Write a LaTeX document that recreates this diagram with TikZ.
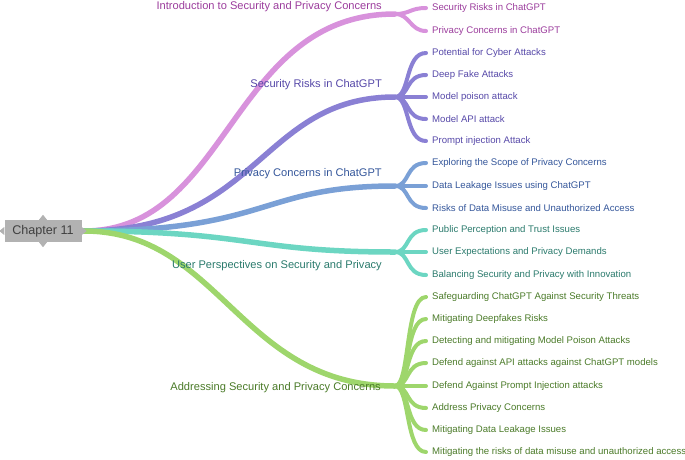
\documentclass[tikz,border=0pt]{standalone}
\usepackage{fontspec}
\setmainfont{Liberation Sans}
\begin{document}
\begin{tikzpicture}[x=1pt,y=-1pt,
 child/.style={anchor=west,font=\fontsize{9.6}{11}\selectfont,inner sep=0pt},
 mainlbl/.style={font=\fontsize{11.1}{13}\selectfont,inner sep=0pt},
 trunk/.style={line width=5.5pt,line cap=round},
 twig/.style={line width=4pt,line cap=round}]
\useasboundingbox (0,0) rectangle (685,459);
\definecolor{cA}{HTML}{D892DC}\definecolor{tA}{HTML}{9B3C9C}
\definecolor{cB}{HTML}{8A80D4}\definecolor{tB}{HTML}{5648A8}
\definecolor{cC}{HTML}{7AA0D6}\definecolor{tC}{HTML}{34569A}
\definecolor{cD}{HTML}{6CD6C2}\definecolor{tD}{HTML}{2A7A6C}
\definecolor{cE}{HTML}{9ED66C}\definecolor{tE}{HTML}{4A7A28}
\coordinate (o) at (84,231);
\coordinate (fA) at (395,14);
\coordinate (fB) at (395,97);
\coordinate (fC) at (395,186);
\coordinate (fD) at (395,252);
\coordinate (fE) at (395,386);
% trunks
\draw[trunk,cA] (o) .. controls (230,231) and (230,14) .. (fA);
\draw[trunk,cB] (o) .. controls (260,231) and (260,97) .. (fB);
\draw[trunk,cC] (o) .. controls (270,231) and (260,186) .. (fC);
\draw[trunk,cD] (o) .. controls (250,231) and (250,252) .. (fD);
\draw[trunk,cE] (o) .. controls (220,231) and (240,386) .. (fE);
% root
\node[fill=black!30,text=black!75,font=\fontsize{12.6}{14}\selectfont,minimum width=77pt,minimum height=22pt,inner sep=0pt] (root) at (43,231) {Chapter 11};
\fill[black!30] (root.north) ++(-4,0) -- ++(4,-5) -- ++(4,5) -- cycle;
\fill[black!30] (root.south) ++(-4,0) -- ++(4,5) -- ++(4,-5) -- cycle;
\fill[black!30] (root.east) ++(0,-4) -- ++(5,4) -- ++(-5,4) -- cycle;
\fill[black!30] (root.west) ++(0,-4) -- ++(-5,4) -- ++(5,4) -- cycle;
% main labels
\node[mainlbl,text=tA,anchor=east] (mA) at (382,7) {Introduction to Security and Privacy Concerns};
\node[mainlbl,text=tB,anchor=east] (mB) at (382,85) {Security Risks in ChatGPT};
\node[mainlbl,text=tC,anchor=east] (mC) at (382,174) {Privacy Concerns in ChatGPT};
\node[mainlbl,text=tD,anchor=east] (mD) at (382,266) {User Perspectives on Security and Privacy};
\node[mainlbl,text=tE,anchor=east] (mE) at (381,388) {Addressing Security and Privacy Concerns};
% children
\foreach \n/\y/\t in {a1/8/Security Risks in ChatGPT,a2/31/Privacy Concerns in ChatGPT}
 {\node[child,text=tA] (\n) at (432,\y) {\t}; \draw[twig,cA] (fA) .. controls (410,14) and (410,\y) .. ([xshift=-6pt]\n.west);}
\foreach \n/\y/\t in {b1/53/Potential for Cyber Attacks,b2/75/Deep Fake Attacks,b3/97/Model poison attack,b4/119/Model API attack,b5/141/Prompt injection Attack}
 {\node[child,text=tB] (\n) at (432,\y) {\t}; \draw[twig,cB] (fB) .. controls (410,97) and (405,\y) .. ([xshift=-6pt]\n.west);}
\foreach \n/\y/\t in {c1/163/Exploring the Scope of Privacy Concerns,c2/186/Data Leakage Issues using ChatGPT,c3/208/Risks of Data Misuse and Unauthorized Access}
 {\node[child,text=tC] (\n) at (432,\y) {\t}; \draw[twig,cC] (fC) .. controls (410,186) and (405,\y) .. ([xshift=-6pt]\n.west);}
\foreach \n/\y/\t in {d1/230/Public Perception and Trust Issues,d2/252/User Expectations and Privacy Demands,d3/275/Balancing Security and Privacy with Innovation}
 {\node[child,text=tD] (\n) at (432,\y) {\t}; \draw[twig,cD] (fD) .. controls (410,252) and (405,\y) .. ([xshift=-6pt]\n.west);}
\foreach \n/\y/\t in {e1/297/Safeguarding ChatGPT Against Security Threats,e2/319/Mitigating Deepfakes Risks,e3/341/Detecting and mitigating Model Poison Attacks,e4/363/Defend against API attacks against ChatGPT models,e5/386/Defend Against Prompt Injection attacks,e6/408/Address Privacy Concerns,e7/430/Mitigating Data Leakage Issues,e8/452/Mitigating the risks of data misuse and unauthorized access}
 {\node[child,text=tE] (\n) at (432,\y) {\t}; \draw[twig,cE] (fE) .. controls (410,386) and (405,\y) .. ([xshift=-6pt]\n.west);}
\end{tikzpicture}
\end{document}
